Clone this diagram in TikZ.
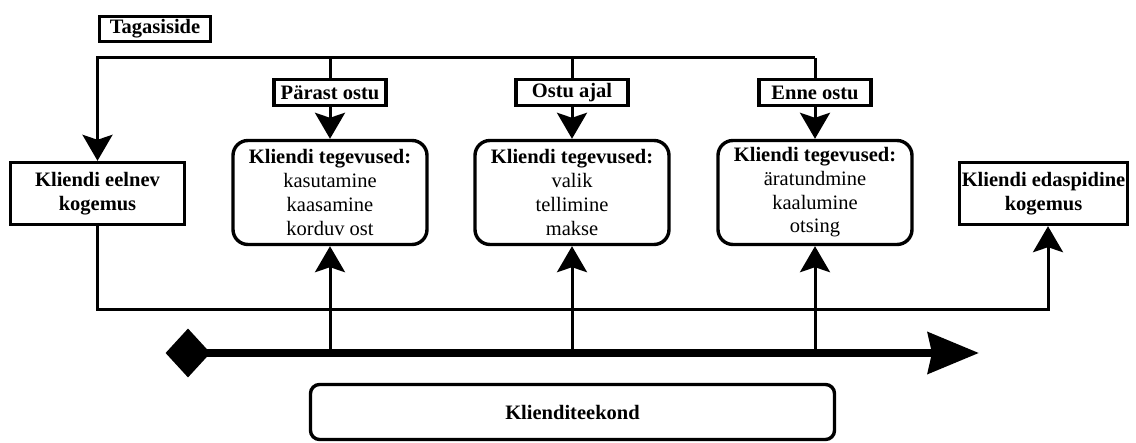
\documentclass[tikz,border=0pt]{standalone}
\usepackage{fontspec}
\setmainfont{Liberation Serif}
\usepackage{tikz}
\tikzset{>=latex}
\usetikzlibrary{arrows.meta, shapes.geometric}
\tikzset{
    bigtip/.tip={Stealth[length=26pt, width=30pt, inset=5pt]},
    txt/.style={font=\fontsize{20.5}{23.7}\selectfont},
    boldbox/.style={draw, line width=3.4pt, align=center, inner sep=0pt,
        font=\fontsize{20.5}{23.7}\selectfont\bfseries},
    stage/.style={boldbox, minimum width=112pt, minimum height=26pt},
    actbox/.style={draw, line width=3.4pt, rounded corners=15pt, align=center,
        minimum width=194pt, minimum height=104pt, inner sep=0pt, txt},
    link/.style={line width=3pt}
}

\begin{document}
\begin{tikzpicture}[x=1pt, y=-1pt]
   \useasboundingbox (0,0) rectangle (1136,443);

   % feedback and outer boxes
   \node[boldbox, minimum width=111pt, minimum height=25pt] (tagasiside) at (155,29) {Tagasiside};
   \node[boldbox, minimum width=174pt, minimum height=62pt] (eelnev) at (97.5,193.5) {Kliendi eelnev\\kogemus};
   \node[boldbox, minimum width=168pt, minimum height=62pt] (edaspidine) at (1043.5,193.5) {Kliendi edaspidine\\kogemus};
   \node[boldbox, rounded corners=9pt, minimum width=524pt, minimum height=55pt] (teekond) at (572.5,412) {Klienditeekond};

   \coordinate (fbline) at (0,58);
   \coordinate (botline) at (0,310);
   \coordinate (axis) at (0,349);

   % stages
   \foreach \x/\name/\hdr/\acts in {330/parast/{Pärast ostu}/{kasutamine\\kaasamine\\korduv ost},
        572/ajal/{Ostu ajal}/{valik\\tellimine\\makse},
        815/enne/{Enne ostu}/{äratundmine\\kaalumine\\otsing}}{
        \node[stage] (\name) at (\x,92.5) {\hdr};
        \node[actbox] (\name-act) at (\x,192.5) {\textbf{Kliendi tegevused:}\\\acts};
        \draw[link] (\name.north) -- (\name.north |- fbline);
        \draw[link, -{bigtip}] (\name.south) -- (\name-act.north);
        \draw[link, -{bigtip}] (\name-act.south |- axis) -- (\name-act.south);
    }

   % connectors
   \draw[link, -{bigtip}] (enne.north |- fbline) -| (eelnev.north);
   \draw[link, -{bigtip}] (eelnev.south) -- (eelnev.south |- botline) -| ([xshift=4.5pt]edaspidine.south);

   % time axis
   \node[diamond, fill=black, minimum width=45pt, minimum height=49pt, inner sep=0pt] (start) at (188,353) {};
   \coordinate (finish) at (979,353);
   \draw[line width=8pt, -{Stealth[length=51pt, width=41pt, inset=4pt]}] (start.center) -- (finish);
\end{tikzpicture}
\end{document}
